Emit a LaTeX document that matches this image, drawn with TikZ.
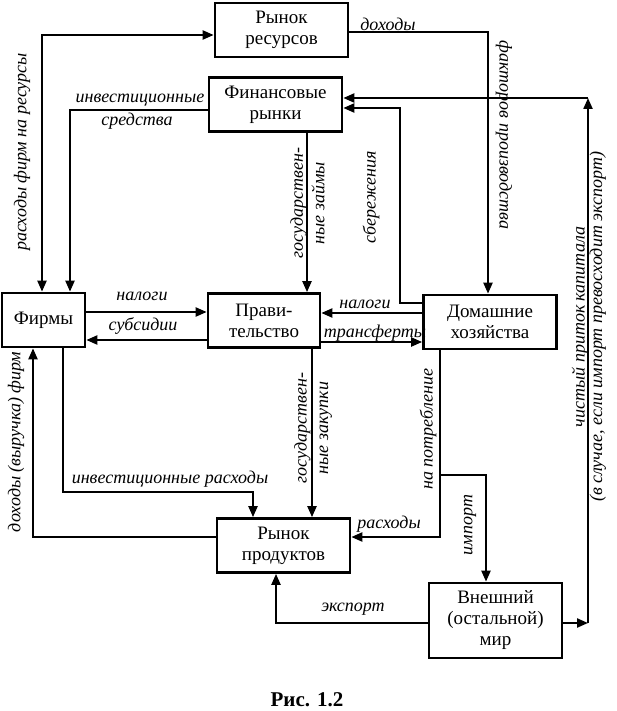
\documentclass[tikz,border=0pt]{standalone}
\usepackage{fontspec}
\setmainfont{Liberation Serif}
\usetikzlibrary{arrows.meta}

\begin{document}
\begin{tikzpicture}
  [x=1pt,y=-1pt,
  >={Triangle[length=11pt,width=9pt]},
  blok/.style={draw,line width=2.7pt,inner sep=0pt,minimum width=133pt,minimum height=54pt,align=center,font=\fontsize{19}{21}\selectfont},
  lbl/.style={inner sep=0pt,align=center,font=\itshape\fontsize{18}{21.5}\selectfont},
  arr/.style={->,line width=2.2pt}]
  \useasboundingbox (0,0) rectangle (616,711);

  \node[blok] (res) at (281.5,30) {Рынок\\ресурсов};
  \node[blok] (fin) at (275.5,104.5) {Финансовые\\рынки};
  \node[blok,minimum width=83pt] (firms) at (43.5,320) {Фирмы};
  \node[blok,minimum width=112pt] (gov) at (264,320.5) {Прави-\\тельство};
  \node[blok] (hh) at (490,322) {Домашние\\хозяйства};
  \node[blok] (prod) at (283.5,545.5) {Рынок\\продуктов};
  \node[blok,minimum height=75pt] (world) at (495.5,620.5) {Внешний\\(остальной)\\мир};

  \coordinate (c1) at (42,35);
  \coordinate (c2) at (70,110);
  \coordinate (c3) at (488,32);
  \coordinate (c4) at (588,98);
  \coordinate (c5) at (588,623);
  \coordinate (c6) at (400,303);
  \coordinate (c7) at (400,108);
  \coordinate (c8) at (307,200);
  \coordinate (c9) at (150,312);
  \coordinate (c10) at (150,340);
  \coordinate (c11) at (370,313);
  \coordinate (c12) at (370,342);
  \coordinate (c13) at (312,430);
  \coordinate (c14) at (440,537);
  \coordinate (c15) at (440,475);
  \coordinate (c16) at (486,475);
  \coordinate (c17) at (276,623);
  \coordinate (c18) at (33,537);
  \coordinate (c19) at (63,492);
  \coordinate (c20) at (253,492);

  \draw[arr,<->] (firms.north -| c1) |- (res.west |- c1);
  \draw[arr] (fin.west |- c2) -| (firms.north -| c2);
  \draw[arr] (res.east |- c3) -| (hh.north -| c3);
  \draw[arr] (world.east |- c5) -- (c5);
  \draw[arr] (c5) -- (c4);
  \draw[arr] (c4) -- (fin.east |- c4);
  \draw[arr] (hh.west |- c6) -| (c7) -- (fin.east |- c7);
  \draw[arr] (fin.south -| c8) -- (gov.north -| c8);
  \draw[arr] (firms.east |- c9) -- (gov.west |- c9);
  \draw[arr] (gov.west |- c10) -- (firms.east |- c10);
  \draw[arr] (hh.west |- c11) -- (gov.east |- c11);
  \draw[arr] (gov.east |- c12) -- (hh.west |- c12);
  \draw[arr] (gov.south -| c13) -- (prod.north -| c13);
  \draw[arr] (hh.south -| c14) |- (prod.east |- c14);
  \draw[arr] (c15) -| (world.north -| c16);
  \draw[arr] (world.west |- c17) -| (prod.south -| c17);
  \draw[arr] (prod.west |- c18) -| (firms.south -| c18);
  \draw[arr] (firms.south -| c19) |- (c20) -- (prod.north -| c20);

  \node[lbl,rotate=90] (l1) at (22,152) {расходы фирм на ресурсы};
  \node[lbl] (l2) at (140,100) {инвестиционные};
  \node[lbl] (l3) at (137,121) {средства};
  \node[lbl] (l4) at (388,24) {доходы};
  \node[lbl,rotate=-90] (l5) at (504,135) {факторов производства};
  \node[lbl,rotate=90,font=\itshape\fontsize{18}{17.5}\selectfont] (l6) at (589,327) {чистый приток капитала\\(в случае, если импорт превосходит экспорт)};
  \node[lbl,rotate=90] (l7) at (371,197) {сбережения};
  \node[lbl,rotate=90] (l8) at (307.5,203) {государствен-\\ные займы};
  \node[lbl] (l9) at (142,296) {налоги};
  \node[lbl] (l10) at (143,326) {субсидии};
  \node[lbl] (l11) at (365,304) {налоги};
  \node[lbl] (l12) at (375,333) {трансферты};
  \node[lbl,rotate=90] (l13) at (313,428) {государствен-\\ные закупки};
  \node[lbl,rotate=90] (l14) at (428,429) {на потребление};
  \node[lbl] (l15) at (389,524) {расходы};
  \node[lbl,rotate=90] (l16) at (470,525) {импорт};
  \node[lbl] (l17) at (353,609) {экспорт};
  \node[lbl,rotate=90] (l18) at (16,442) {доходы (выручка) фирм};
  \node[lbl] (l19) at (170,479) {инвестиционные расходы};
  \node[font=\bfseries\fontsize{21}{24}\selectfont] (cap) at (307,700) {Рис. 1.2};
\end{tikzpicture}
\end{document}
